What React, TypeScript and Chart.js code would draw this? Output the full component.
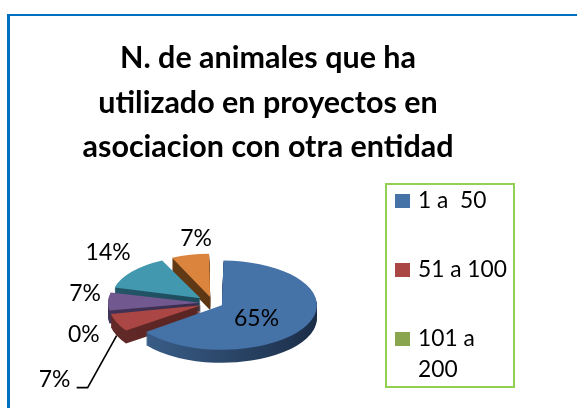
import React, { useEffect, useRef } from "react";
import { Chart, registerables } from "chart.js";

Chart.register(...registerables);

// ---- data ----
const titleLines = ["N. de animales que ha", "utilizado en proyectos en", "asociacion con otra entidad"];
const categories = ["1 a  50", "51 a 100", "101 a 200", "201 a 500", "501 a 1000", "Más de 1000"];
const percentages = [65, 7, 0, 7, 14, 7];
const legendVisibleCount = 3; // the Excel legend box only shows the first three entries

// ---- styles ----
const sliceColors = ["#4572A7", "#AA4643", "#89A54E", "#71588F", "#4198AF", "#DB843D"];
const sideLeft = ["#3E6592", "#632A28", "#4D5F2B", "#433458", "#24586A", "#6A3F18"];
const sideRight = ["#1A2B44", "#4E1F1D", "#3A4820", "#2F243F", "#17404D", "#4F2E10"];

const W = 577;
const H = 408;
const CENTER = { x: 213, y: 303 };
const RADIUS = 85;
const TILT = 0.47;
const DEPTH = 13;
const EXPLODE = 20;
const FONT = "Lato, 'Open Sans', sans-serif";

// label placement relative to the rim point at the slice's mid angle
const labelPlacement: { dx: number; dy: number; leader?: number[][] }[] = [
  { dx: -50, dy: -7 },
  { dx: -62, dy: 57, leader: [[0, DEPTH], [-29, 65], [-40, 65]] },
  { dx: -26, dy: 22 },
  { dx: -23, dy: -8 },
  { dx: -24, dy: -19 },
  { dx: 6, dy: -16 },
];

const LEGEND_BOX = { left: 385, top: 183, right: 515, bottom: 388 };

function fitSize(ctx: CanvasRenderingContext2D, text: string, width: number, weight: string) {
  ctx.font = `${weight} 100px ${FONT}`;
  return (100 * width) / ctx.measureText(text).width;
}

function tilt(ctx: CanvasRenderingContext2D, cx: number, cy: number) {
  ctx.translate(cx, cy);
  ctx.scale(1, TILT);
  ctx.translate(-cx, -cy);
}

const tiltPlugin = {
  id: "tilt3d",
  beforeDatasetsDraw(chart: any) {
    const ctx: CanvasRenderingContext2D = chart.ctx;
    const arcs = chart.getDatasetMeta(0).data;
    if (!arcs.length) return;
    const cx = arcs[0].x;
    const cy = arcs[0].y;
    for (let d = DEPTH; d >= 1; d--) {
      ctx.save();
      ctx.translate(0, d);
      tilt(ctx, cx, cy);
      arcs.forEach((arc: any, i: number) => {
        const g = ctx.createLinearGradient(cx - RADIUS - EXPLODE, 0, cx + RADIUS + EXPLODE, 0);
        g.addColorStop(0, sideLeft[i]);
        g.addColorStop(1, sideRight[i]);
        const saved = arc.options;
        arc.options = Object.assign({}, saved, { backgroundColor: g, borderWidth: 0 });
        arc.draw(ctx);
        arc.options = saved;
      });
      ctx.restore();
    }
    ctx.save();
    tilt(ctx, cx, cy);
  },
  afterDatasetsDraw(chart: any) {
    chart.ctx.restore();
  },
};

const labelPlugin = {
  id: "pctLabels",
  afterDatasetsDraw(chart: any) {
    const ctx: CanvasRenderingContext2D = chart.ctx;
    const arcs = chart.getDatasetMeta(0).data;
    const values = chart.data.datasets[0].data as number[];
    const size = fitSize(ctx, "65%", 45, "400");
    ctx.save();
    ctx.font = `400 ${size}px ${FONT}`;
    ctx.fillStyle = "#000";
    ctx.textAlign = "center";
    ctx.textBaseline = "middle";
    arcs.forEach((arc: any, i: number) => {
      const mid = (arc.startAngle + arc.endAngle) / 2;
      const rx = arc.x + (EXPLODE + RADIUS) * Math.cos(mid);
      const ry = arc.y + (EXPLODE + RADIUS) * Math.sin(mid) * TILT;
      const p = labelPlacement[i];
      if (p.leader) {
        ctx.beginPath();
        ctx.strokeStyle = "#000";
        ctx.lineWidth = 1.6;
        p.leader.forEach((pt, k) => {
          if (k === 0) ctx.moveTo(rx + pt[0], ry + pt[1]);
          else ctx.lineTo(rx + pt[0], ry + pt[1]);
        });
        ctx.stroke();
      }
      ctx.fillText(`${values[i]}%`, rx + p.dx, ry + p.dy);
    });
    ctx.restore();
  },
};

const titlePlugin = {
  id: "excelTitle",
  afterDraw(chart: any) {
    const ctx: CanvasRenderingContext2D = chart.ctx;
    const size = fitSize(ctx, titleLines[2], 371, "700");
    ctx.save();
    ctx.font = `700 ${size}px ${FONT}`;
    ctx.fillStyle = "#000";
    ctx.textAlign = "center";
    ctx.textBaseline = "alphabetic";
    titleLines.forEach((line, i) => ctx.fillText(line, 268, 68 + i * 44.5));
    ctx.restore();
  },
};

const legendPlugin = {
  id: "excelLegend",
  afterDraw(chart: any) {
    const ctx: CanvasRenderingContext2D = chart.ctx;
    const b = LEGEND_BOX;
    ctx.save();
    ctx.strokeStyle = "#92D050";
    ctx.lineWidth = 2;
    ctx.strokeRect(b.left + 1, b.top + 1, b.right - b.left - 2, b.bottom - b.top - 2);
    const size = fitSize(ctx, "51 a 100", 89, "400");
    ctx.font = `400 ${size}px ${FONT}`;
    ctx.textBaseline = "middle";
    ctx.textAlign = "left";
    const labels = chart.data.labels as string[];
    const colors = chart.data.datasets[0].backgroundColor as string[];
    const textX = b.left + 33;
    const maxW = b.right - 3 - textX;
    for (let i = 0; i < Math.min(legendVisibleCount, labels.length); i++) {
      const y = b.top + 18 + i * 69;
      ctx.fillStyle = colors[i];
      ctx.fillRect(b.left + 10, y - 7, 15, 14);
      // simple word wrap
      const words = labels[i].split(" ");
      const lines: string[] = [];
      let cur = "";
      words.forEach((w) => {
        const t = cur ? cur + " " + w : w;
        if (ctx.measureText(t).width > maxW && cur) {
          lines.push(cur);
          cur = w;
        } else cur = t;
      });
      if (cur) lines.push(cur);
      ctx.fillStyle = "#000";
      lines.forEach((ln, k) => ctx.fillText(ln, textX, y + k * 31));
    }
    ctx.restore();
  },
};

export default function App() {
  const ref = useRef<HTMLCanvasElement>(null);
  useEffect(() => {
    const canvas = ref.current!;
    const total = percentages.reduce((a, b) => a + b, 0);
    const offsets = percentages.map((v) => {
      const circ = (v / total) * Math.PI * 2;
      const fix = 1 - Math.sin(Math.min(Math.PI, circ));
      return (4 * EXPLODE) / (1 + fix);
    });
    const chart = new Chart(canvas, {
      type: "pie",
      data: {
        labels: categories,
        datasets: [
          {
            data: percentages,
            backgroundColor: sliceColors,
            borderWidth: 0,
            offset: offsets,
            hoverOffset: 0,
            clip: false,
          } as any,
        ],
      },
      options: {
        responsive: false,
        animation: false,
        events: [],
        radius: RADIUS,
        layout: {
          padding: {
            left: CENTER.x - 100,
            right: W - CENTER.x - 100,
            top: CENTER.y - 100,
            bottom: H - CENTER.y - 100,
          },
        },
        plugins: {
          legend: { display: false },
          tooltip: { enabled: false },
          title: { display: false },
        },
      } as any,
      plugins: [tiltPlugin, labelPlugin, titlePlugin, legendPlugin],
    });
    return () => chart.destroy();
  }, []);

  return (
    <div
      style={{
        position: "fixed",
        left: 0,
        top: 0,
        width: W,
        height: H,
        overflow: "hidden",
        background: "#fff",
      }}
    >
      <div
        style={{
          position: "absolute",
          left: 7,
          top: 14,
          width: 640,
          height: 460,
          borderLeft: "3px solid #0070C0",
          borderTop: "2px solid #0070C0",
        }}
      />
      <canvas
        ref={ref}
        width={W}
        height={H}
        style={{ position: "absolute", left: 0, top: 0, width: W, height: H }}
      />
    </div>
  );
}
